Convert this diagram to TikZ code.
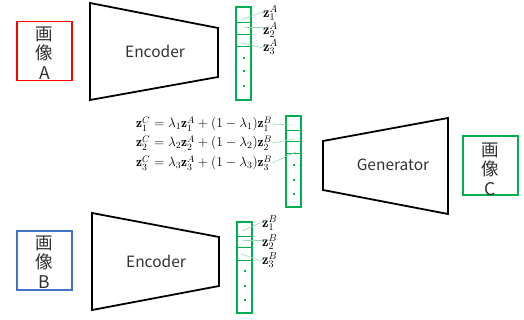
\RequirePackage{fix-cm}
\documentclass[tikz,border=0pt]{standalone}
\usepackage{fontspec}
\usepackage{amsmath}
\newfontfamily\jp{Noto Sans CJK JP}
\definecolor{vgreen}{RGB}{0,176,80}
\definecolor{lgreen}{RGB}{150,215,170}
\definecolor{bred}{RGB}{255,0,0}
\definecolor{bblue}{RGB}{68,114,196}
\definecolor{txt}{RGB}{50,50,50}
\begin{document}
\begin{tikzpicture}[x=1pt,y=-1pt,
  trap/.style={draw=black, line width=1.8pt, line join=miter},
  imgbox/.style={line width=1.8pt, minimum width=55pt, minimum height=59pt, inner sep=0pt},
  imgtext/.style={align=center, inner sep=0pt, font=\jp\fontsize{17.5}{19.5}\selectfont, text=txt},
  nettext/.style={inner sep=0pt, font=\jp\fontsize{15.5}{18}\selectfont, text=txt},
  vecbox/.style={draw=vgreen, line width=1.8pt},
  divline/.style={draw=vgreen, line width=0.7pt},
  link/.style={draw=lgreen, line width=0.6pt},
  lbl/.style={font=\fontsize{14.5}{16}\selectfont, inner sep=0pt, anchor=west},
  eq/.style={font=\fontsize{13.5}{16}\selectfont, inner sep=0pt, anchor=west},
  vdot/.style={fill=vgreen, minimum size=2pt, inner sep=0pt, draw=none}]
\useasboundingbox (0,0) rectangle (524,320);

% image boxes
\node[imgbox, draw=bred] (boxA) at (44.5,51) {};
\node[imgtext] (tA) at (44.5,53) {画\\像\\A};
\node[imgbox, draw=bblue] (boxB) at (44.5,260.5) {};
\node[imgtext] (tB) at (44.5,262) {画\\像\\B};
\node[imgbox, draw=vgreen] (boxC) at (490.5,165.5) {};
\node[imgtext] (tC) at (490.5,169) {画\\像\\C};

% encoders / generator
\draw[trap] (90,3) -- (218,28) -- (218,77) -- (90,100) -- cycle;
\node[nettext] (encA) at (155,51) {Encoder};
\draw[trap] (92,213) -- (219,237) -- (219,286) -- (92,310) -- cycle;
\node[nettext] (encB) at (156,261) {Encoder};
\draw[trap] (323,141) -- (448,118) -- (448,214) -- (323,190) -- cycle;
\node[nettext] (gen) at (393,165) {Generator};

% vector A
\draw[vecbox] (236,7) rectangle (251,100);
\foreach \yy in {22,34,46} \draw[divline] (236,\yy) -- (251,\yy);
\foreach \yy/\n in {58/1,71/2,86/3} \node[vdot] (dA\n) at (243.5,\yy) {};
% vector middle
\draw[vecbox] (286,116) rectangle (301,207);
\foreach \yy in {130,141,153} \draw[divline] (286,\yy) -- (301,\yy);
\foreach \yy/\n in {165/1,180/2,194/3} \node[vdot] (dM\n) at (293.5,\yy) {};
% vector B
\draw[vecbox] (237,222) rectangle (252,313);
\foreach \yy in {236,247,260} \draw[divline] (237,\yy) -- (252,\yy);
\foreach \yy/\n in {271/1,286/2,300/3} \node[vdot] (dB\n) at (244.5,\yy) {};

% labels A
\node[lbl] (zA1) at (263,13) {$\mathbf{z}_1^A$};
\node[lbl] (zA2) at (263,30) {$\mathbf{z}_2^A$};
\node[lbl] (zA3) at (263,47) {$\mathbf{z}_3^A$};
\coordinate (cA1) at (242,19);
\coordinate (cA2) at (245,27);
\coordinate (cA3) at (243,43);
\draw[link] (cA1) -- ([yshift=1pt]zA1.west);
\draw[link] (cA2) -- ([yshift=3pt]zA2.west);
\draw[link] (cA3) -- ([yshift=-1pt]zA3.west);

% labels B
\node[lbl] (zB1) at (262,223) {$\mathbf{z}_1^B$};
\node[lbl] (zB2) at (262,242) {$\mathbf{z}_2^B$};
\node[lbl] (zB3) at (262,260) {$\mathbf{z}_3^B$};
\coordinate (cB1) at (242,231);
\coordinate (cB2) at (243,240);
\coordinate (cB3) at (241,254);
\draw[link] (cB1) -- ([yshift=1pt]zB1.west);
\draw[link] (cB2) -- ([yshift=2pt]zB2.west);
\draw[link] (cB3) -- ([yshift=-1pt]zB3.west);

% equations
\node[eq] (e1) at (136,124) {$\mathbf{z}_1^C = \lambda_1\mathbf{z}_1^A + (1-\lambda_1)\mathbf{z}_1^B$};
\node[eq] (e2) at (136,143) {$\mathbf{z}_2^C = \lambda_2\mathbf{z}_2^A + (1-\lambda_2)\mathbf{z}_2^B$};
\node[eq] (e3) at (136,163) {$\mathbf{z}_3^C = \lambda_3\mathbf{z}_3^A + (1-\lambda_3)\mathbf{z}_3^B$};
\coordinate (cM1) at (292,125);
\coordinate (cM2) at (295,139);
\coordinate (cM3) at (296,152);
\draw[link] (e1.east) -- (cM1);
\draw[link] (e2.east) -- (cM2);
\draw[link] (e3.east) -- (cM3);
\end{tikzpicture}
\end{document}
